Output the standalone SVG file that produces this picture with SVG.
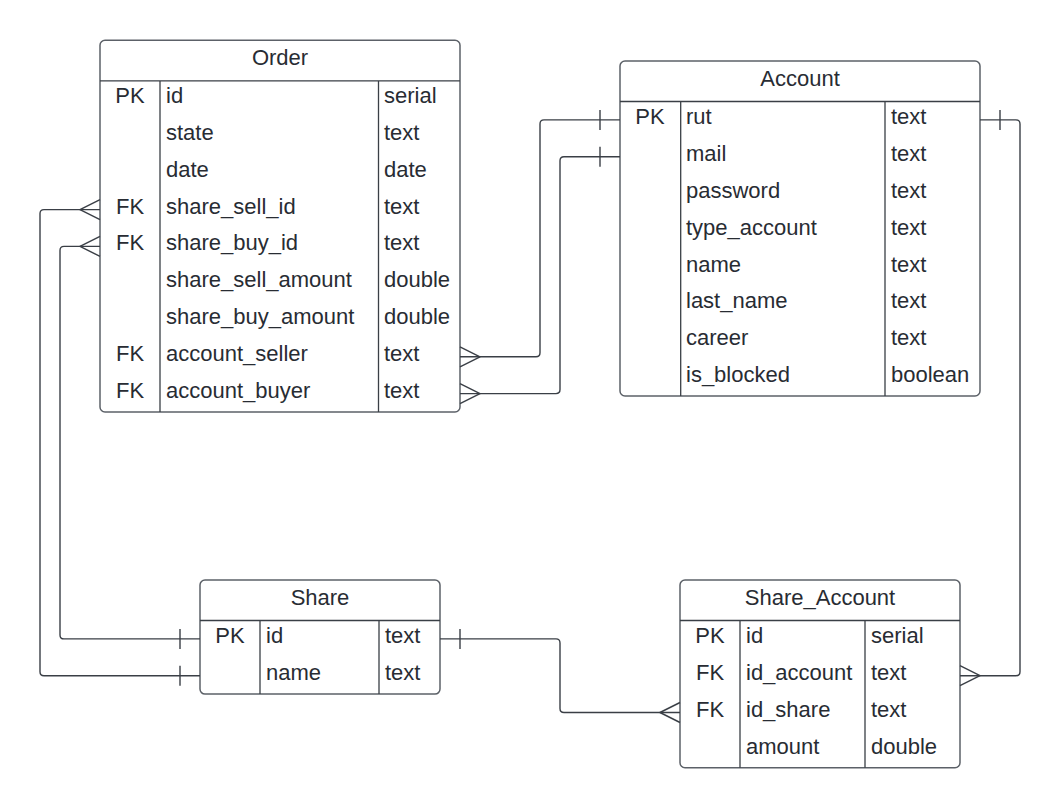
<svg xmlns="http://www.w3.org/2000/svg" width="1060" height="808" viewBox="0 0 1060 808">
  <style>
    .box { fill: #ffffff; stroke: #5c6168; stroke-width: 1.5; }
    .sep { stroke: #3a3f46; stroke-width: 1.3; fill: none; }
    .t { font-family: "Liberation Sans", Arial, sans-serif; font-size: 22px; fill: #282c33; }
    .c { text-anchor: middle; }
    .wire { fill: none; stroke: #3a3f46; stroke-width: 1.4; stroke-linejoin: round; }
  </style>
  <rect width="1060" height="808" fill="#ffffff"/>

  <!-- Order table -->
  <g id="order">
    <rect class="box" x="100" y="40.3" width="360" height="371.7" rx="5"/>
    <path class="sep" d="M100,80.8 H460 M160,80.8 V412 M378.5,80.8 V412"/>
    <text class="t c" x="280" y="65">Order</text>
    <g class="t">
      <text class="c" x="130" y="103.2">PK</text><text x="166" y="103.2">id</text><text x="384" y="103.2">serial</text>
      <text x="166" y="140">state</text><text x="384" y="140">text</text>
      <text x="166" y="176.8">date</text><text x="384" y="176.8">date</text>
      <text class="c" x="130" y="213.6">FK</text><text x="166" y="213.6">share_sell_id</text><text x="384" y="213.6">text</text>
      <text class="c" x="130" y="250.4">FK</text><text x="166" y="250.4">share_buy_id</text><text x="384" y="250.4">text</text>
      <text x="166" y="287.2">share_sell_amount</text><text x="384" y="287.2">double</text>
      <text x="166" y="324">share_buy_amount</text><text x="384" y="324">double</text>
      <text class="c" x="130" y="360.8">FK</text><text x="166" y="360.8">account_seller</text><text x="384" y="360.8">text</text>
      <text class="c" x="130" y="397.6">FK</text><text x="166" y="397.6">account_buyer</text><text x="384" y="397.6">text</text>
    </g>
  </g>

  <!-- Account table -->
  <g id="account">
    <rect class="box" x="620" y="61" width="360" height="334.9" rx="5"/>
    <path class="sep" d="M620,101.5 H980 M680.7,101.5 V395.9 M885,101.5 V395.9"/>
    <text class="t c" x="800" y="85.8">Account</text>
    <g class="t">
      <text class="c" x="650" y="124.4">PK</text><text x="686" y="124.4">rut</text><text x="891" y="124.4">text</text>
      <text x="686" y="161.2">mail</text><text x="891" y="161.2">text</text>
      <text x="686" y="198">password</text><text x="891" y="198">text</text>
      <text x="686" y="234.8">type_account</text><text x="891" y="234.8">text</text>
      <text x="686" y="271.6">name</text><text x="891" y="271.6">text</text>
      <text x="686" y="308.4">last_name</text><text x="891" y="308.4">text</text>
      <text x="686" y="345.2">career</text><text x="891" y="345.2">text</text>
      <text x="686" y="382">is_blocked</text><text x="891" y="382">boolean</text>
    </g>
  </g>

  <!-- Share table -->
  <g id="share">
    <rect class="box" x="200" y="580" width="240" height="114.1" rx="5"/>
    <path class="sep" d="M200,620.5 H440 M260,620.5 V694.1 M379,620.5 V694.1"/>
    <text class="t c" x="320" y="604.8">Share</text>
    <g class="t">
      <text class="c" x="230" y="643.4">PK</text><text x="266" y="643.4">id</text><text x="385" y="643.4">text</text>
      <text x="266" y="680.2">name</text><text x="385" y="680.2">text</text>
    </g>
  </g>

  <!-- Share_Account table -->
  <g id="share_account">
    <rect class="box" x="680" y="580" width="280" height="187.7" rx="5"/>
    <path class="sep" d="M680,620.5 H960 M740,620.5 V767.7 M865,620.5 V767.7"/>
    <text class="t c" x="820" y="604.8">Share_Account</text>
    <g class="t">
      <text class="c" x="710" y="643.4">PK</text><text x="746" y="643.4">id</text><text x="871" y="643.4">serial</text>
      <text class="c" x="710" y="680.2">FK</text><text x="746" y="680.2">id_account</text><text x="871" y="680.2">text</text>
      <text class="c" x="710" y="717">FK</text><text x="746" y="717">id_share</text><text x="871" y="717">text</text>
      <text x="746" y="753.8">amount</text><text x="871" y="753.8">double</text>
    </g>
  </g>

  <!-- Relationships: crow's foot = many, bar = one -->
  <g id="connectors">
    <!-- Order.share_sell_id -> Share (name row) -->
    <path class="wire" d="M100,209.6 H44 Q40,209.6 40,213.6 V671.7 Q40,675.7 44,675.7 H200"/>
    <path class="wire" d="M100,199.6 L80,209.6 L100,219.6 M180,665.7 V685.7"/>
    <!-- Order.share_buy_id -> Share.id -->
    <path class="wire" d="M100,246.4 H64 Q60,246.4 60,250.4 V634.9 Q60,638.9 64,638.9 H200"/>
    <path class="wire" d="M100,236.4 L80,246.4 L100,256.4 M180,628.9 V648.9"/>
    <!-- Order.account_seller -> Account.rut -->
    <path class="wire" d="M460,356.8 H536 Q540,356.8 540,352.8 V123.9 Q540,119.9 544,119.9 H620"/>
    <path class="wire" d="M460,346.8 L480,356.8 L460,366.8 M600,109.9 V129.9"/>
    <!-- Order.account_buyer -> Account -->
    <path class="wire" d="M460,393.6 H556 Q560,393.6 560,389.6 V160.7 Q560,156.7 564,156.7 H620"/>
    <path class="wire" d="M460,383.6 L480,393.6 L460,403.6 M600,146.7 V166.7"/>
    <!-- Account.rut -> Share_Account.id_account -->
    <path class="wire" d="M980,119.9 H1016 Q1020,119.9 1020,123.9 V671.7 Q1020,675.7 1016,675.7 H960"/>
    <path class="wire" d="M1000,109.9 V129.9 M960,665.7 L980,675.7 L960,685.7"/>
    <!-- Share.id -> Share_Account.id_share -->
    <path class="wire" d="M440,638.9 H556 Q560,638.9 560,642.9 V708.5 Q560,712.5 564,712.5 H680"/>
    <path class="wire" d="M460,628.9 V648.9 M680,702.5 L660,712.5 L680,722.5"/>
  </g>
</svg>
